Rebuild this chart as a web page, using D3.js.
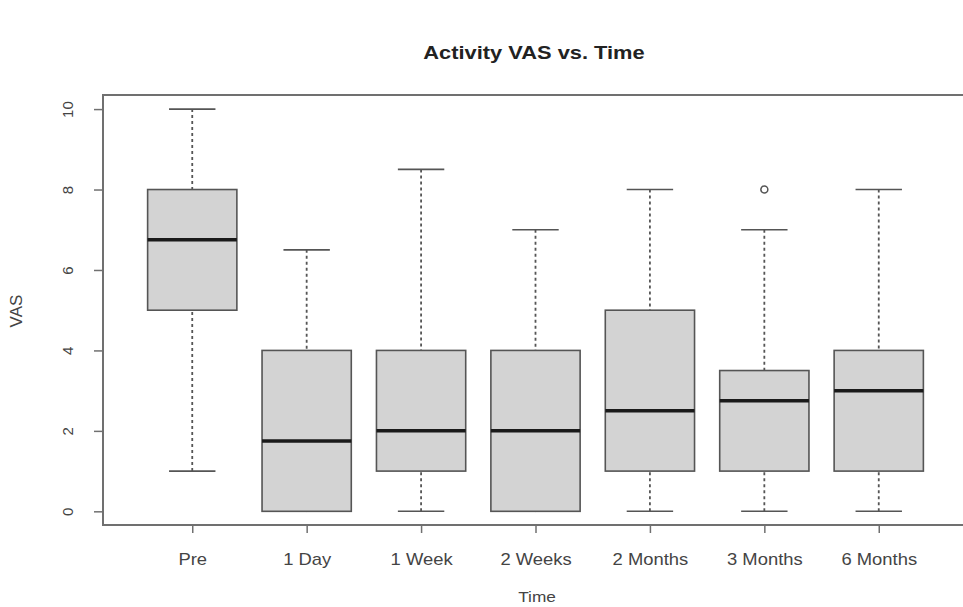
<!DOCTYPE html>
<html>
<head>
<meta charset="utf-8">
<script src="https://cdn.jsdelivr.net/npm/d3@7"></script>
<style>
  html, body { margin: 0; padding: 0; background: #ffffff; }
  svg { display: block; }
  text { font-family: "Liberation Sans", Arial, sans-serif; fill: #333; }
</style>
</head>
<body>
<svg id="chart" width="963" height="607"></svg>
<script>
// ---- data ----
const categories = ["Pre", "1 Day", "1 Week", "2 Weeks", "2 Months", "3 Months", "6 Months"];
const whiskerLow  = [1, 0, 0, 0, 0, 0, 0];
const q1          = [5, 0, 1, 0, 1, 1, 1];
const medians     = [6.75, 1.75, 2, 2, 2.5, 2.75, 3];
const q3          = [8, 4, 4, 4, 5, 3.5, 4];
const whiskerHigh = [10, 6.5, 8.5, 7, 8, 7, 8];
const outlierCats = ["3 Months"];
const outlierVals = [8];
const yTicks = [0, 2, 4, 6, 8, 10];
const titleText = "Activity VAS vs. Time";
const xTitle = "Time";
const yTitle = "VAS";

// ---- layout ----
const svg = d3.select("#chart");
const plotL = 103, plotR = 968, plotT = 95, plotB = 525;
const stretch = 1.15; // horizontal text stretch seen in the reference

const x = d3.scalePoint().domain(categories).range([plotL, plotR]).padding(0.78);
const y = d3.scaleLinear().domain([-0.34, 10.35]).range([plotB, plotT]);
const step = x.step();
const boxW = step * 0.78;
const capW = boxW * 0.52;

const stroke = "#555";

const rows = categories.map((c, i) => ({
  cat: c, lo: whiskerLow[i], q1: q1[i], med: medians[i], q3: q3[i], hi: whiskerHigh[i]
}));

const g = svg.append("g");

// whiskers (dashed)
g.selectAll("line.wlo").data(rows).join("line")
  .attr("x1", d => x(d.cat)).attr("x2", d => x(d.cat))
  .attr("y1", d => y(d.lo)).attr("y2", d => y(d.q1))
  .attr("stroke", stroke).attr("stroke-width", 1.8).attr("stroke-dasharray", "3,3");
g.selectAll("line.whi").data(rows).join("line")
  .attr("x1", d => x(d.cat)).attr("x2", d => x(d.cat))
  .attr("y1", d => y(d.hi)).attr("y2", d => y(d.q3))
  .attr("stroke", stroke).attr("stroke-width", 1.8).attr("stroke-dasharray", "3,3");

// staples
g.selectAll("line.caplo").data(rows).join("line")
  .attr("x1", d => x(d.cat) - capW / 2).attr("x2", d => x(d.cat) + capW / 2)
  .attr("y1", d => y(d.lo)).attr("y2", d => y(d.lo))
  .attr("stroke", stroke).attr("stroke-width", 1.6);
g.selectAll("line.caphi").data(rows).join("line")
  .attr("x1", d => x(d.cat) - capW / 2).attr("x2", d => x(d.cat) + capW / 2)
  .attr("y1", d => y(d.hi)).attr("y2", d => y(d.hi))
  .attr("stroke", stroke).attr("stroke-width", 1.6);

// boxes
g.selectAll("rect.box").data(rows).join("rect")
  .attr("x", d => x(d.cat) - boxW / 2).attr("width", boxW)
  .attr("y", d => y(d.q3)).attr("height", d => y(d.q1) - y(d.q3))
  .attr("fill", "#d3d3d3").attr("stroke", stroke).attr("stroke-width", 1.6);

// medians
g.selectAll("line.med").data(rows).join("line")
  .attr("x1", d => x(d.cat) - boxW / 2).attr("x2", d => x(d.cat) + boxW / 2)
  .attr("y1", d => y(d.med)).attr("y2", d => y(d.med))
  .attr("stroke", "#1a1a1a").attr("stroke-width", 3.5);

// outliers
g.selectAll("circle.out").data(outlierCats.map((c, i) => ({ cat: c, v: outlierVals[i] }))).join("circle")
  .attr("cx", d => x(d.cat)).attr("cy", d => y(d.v)).attr("r", 3.5)
  .attr("fill", "none").attr("stroke", stroke).attr("stroke-width", 1.5);

// frame
svg.append("rect")
  .attr("x", plotL).attr("y", plotT).attr("width", plotR - plotL).attr("height", plotB - plotT)
  .attr("fill", "none").attr("stroke", "#707070").attr("stroke-width", 2);

// y axis
const yAxis = svg.append("g").attr("transform", `translate(${plotL},0)`)
  .call(d3.axisLeft(y).tickValues(yTicks).tickSize(9).tickPadding(0).tickFormat(d3.format("d")));
yAxis.select(".domain").remove();
yAxis.selectAll(".tick line").attr("stroke", "#707070").attr("stroke-width", 1.5);
yAxis.selectAll(".tick text")
  .attr("x", null).attr("dy", null)
  .attr("text-anchor", "middle")
  .attr("transform", "translate(-35,0) rotate(-90)")
  .attr("dy", "0.35em")
  .style("font-size", "15px").style("fill", "#444");

// x axis
const xAxis = svg.append("g").attr("transform", `translate(0,${plotB})`)
  .call(d3.axisBottom(x).tickSize(8).tickPadding(0));
xAxis.select(".domain").remove();
xAxis.selectAll(".tick line").attr("stroke", "#707070").attr("stroke-width", 1.5);
xAxis.selectAll(".tick text")
  .attr("y", null).attr("dy", null)
  .attr("transform", `translate(0,40) scale(${stretch},1)`)
  .style("font-size", "16px").style("fill", "#444");

// title
svg.append("text")
  .attr("transform", `translate(534,59) scale(${stretch},1)`)
  .attr("text-anchor", "middle")
  .style("font-size", "19px").style("font-weight", "bold").style("fill", "#222")
  .text(titleText);

// axis titles
svg.append("text")
  .attr("transform", `translate(537,602) scale(${stretch},1)`)
  .attr("text-anchor", "middle")
  .style("font-size", "15px").style("fill", "#444")
  .text(xTitle);
svg.append("text")
  .attr("transform", "translate(22,311) rotate(-90)")
  .attr("text-anchor", "middle")
  .style("font-size", "17px").style("fill", "#444")
  .text(yTitle);
</script>
</body>
</html>
